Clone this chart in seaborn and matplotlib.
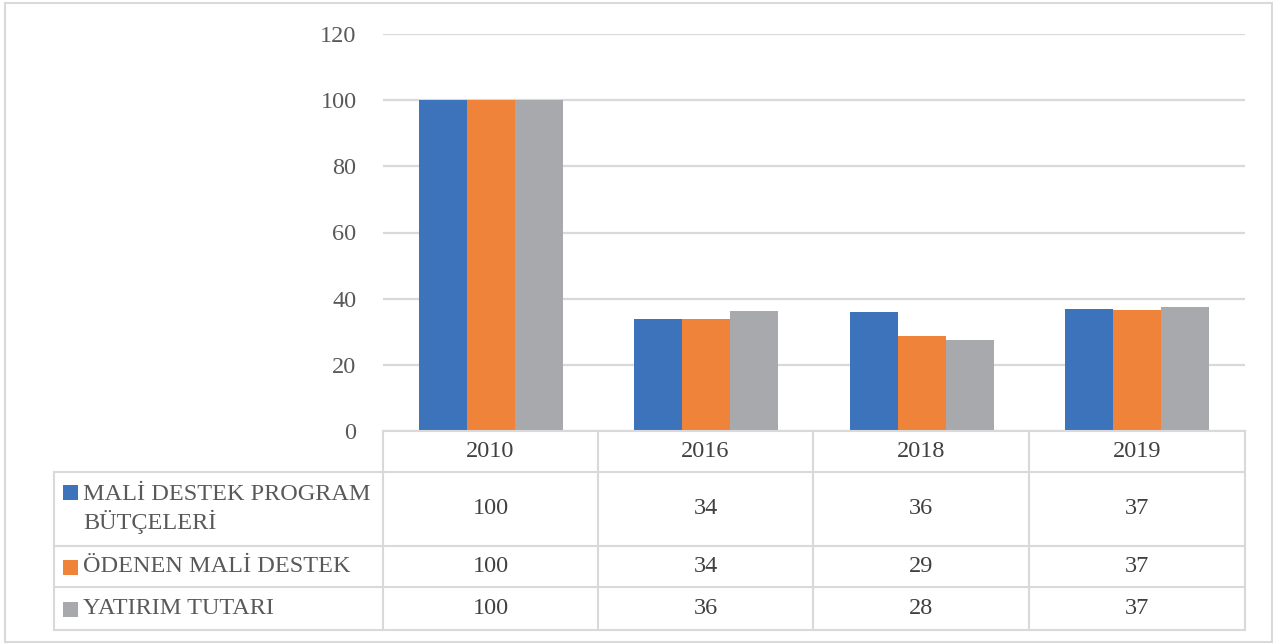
import numpy as np
import pandas as pd
import seaborn as sns
import matplotlib.pyplot as plt
from matplotlib.lines import Line2D
from matplotlib.patches import Rectangle

years = ["2010", "2016", "2018", "2019"]
series = ["MALİ DESTEK PROGRAM BÜTÇELERİ", "ÖDENEN MALİ DESTEK", "YATIRIM TUTARI"]
series_lines = ["MALİ DESTEK PROGRAM\nBÜTÇELERİ", "ÖDENEN MALİ DESTEK", "YATIRIM TUTARI"]
butce = [100, 34.0, 36.0, 36.8]
odenen = [100, 34.0, 28.6, 36.5]
yatirim = [100, 36.2, 27.6, 37.4]
# numbers printed in the data table
table_vals = [[100, 34, 36, 37], [100, 34, 29, 37], [100, 36, 28, 37]]
colors = ["#3D73BB", "#F0833A", "#A8A9AD"]

df = pd.DataFrame({
    "Yil": years * 3,
    "Seri": [s for s in series for _ in years],
    "Deger": butce + odenen + yatirim,
})

W, H = 1273, 644
FS = 17.5
plt.rcParams["font.family"] = ["Liberation Serif", "DejaVu Serif"]
fig = plt.figure(figsize=(W / 100, H / 100), dpi=100)


def fx(x):
    return x / W


def fy(y):
    return 1 - y / H


ax = fig.add_axes([fx(383), fy(431), fx(1245 - 383), (431 - 34) / H])
sns.barplot(data=df, x="Yil", y="Deger", hue="Seri", palette=colors,
            width=0.67, linewidth=0, saturation=1, ax=ax, legend=False)
ax.set_ylim(0, 120)
ax.set_yticks(range(0, 121, 20))
ax.set_xlim(-0.5, 3.5)
ax.set_xlabel("")
ax.set_ylabel("")
ax.set_xticks([])
ax.yaxis.grid(True, color="#d9d9d9", linewidth=1.6)
ax.set_axisbelow(True)
for s in ax.spines.values():
    s.set_visible(False)
ax.tick_params(axis="y", length=0, pad=19, labelsize=FS, labelcolor="#595959")

grid_c = "#d9d9d9"


def hline(x0, x1, y):
    fig.add_artist(Line2D([fx(x0), fx(x1)], [fy(y), fy(y)], color=grid_c, lw=1.5))


def vline(x, y0, y1):
    fig.add_artist(Line2D([fx(x), fx(x)], [fy(y0), fy(y1)], color=grid_c, lw=1.5))


# outer border
fig.add_artist(Rectangle((fx(5), fy(642)), fx(1267), (642 - 3) / H, fill=False,
                         edgecolor=grid_c, lw=1.5))

# data table
cols = [383, 598, 813, 1029, 1245]
rows = [431, 472, 546, 587, 630]
hline(383, 1245, rows[0])
for r in rows[1:]:
    hline(54, 1245, r)
for c in cols:
    vline(c, rows[0], rows[-1])
vline(54, rows[1], rows[-1])

for i, yr in enumerate(years):
    xc = (cols[i] + cols[i + 1]) / 2
    fig.text(fx(xc), fy((rows[0] + rows[1]) / 2), yr, ha="center", va="center",
             fontsize=FS, color="#404040")

for j, lab in enumerate(series_lines):
    yc = (rows[j + 1] + rows[j + 2]) / 2
    for i in range(len(years)):
        xc = (cols[i] + cols[i + 1]) / 2
        fig.text(fx(xc), fy(yc), str(table_vals[j][i]), ha="center", va="center",
                 fontsize=FS, color="#404040")
    sy = 492 if "\n" in lab else yc + 1
    fig.add_artist(Rectangle((fx(63), fy(sy + 7.5)), fx(15), 15 / H,
                             color=colors[j], lw=0))
    fig.text(fx(83), fy(yc), lab, ha="left", va="center", fontsize=FS,
             color="#595959", linespacing=1.3)

fig.savefig("out.png", dpi=100)
